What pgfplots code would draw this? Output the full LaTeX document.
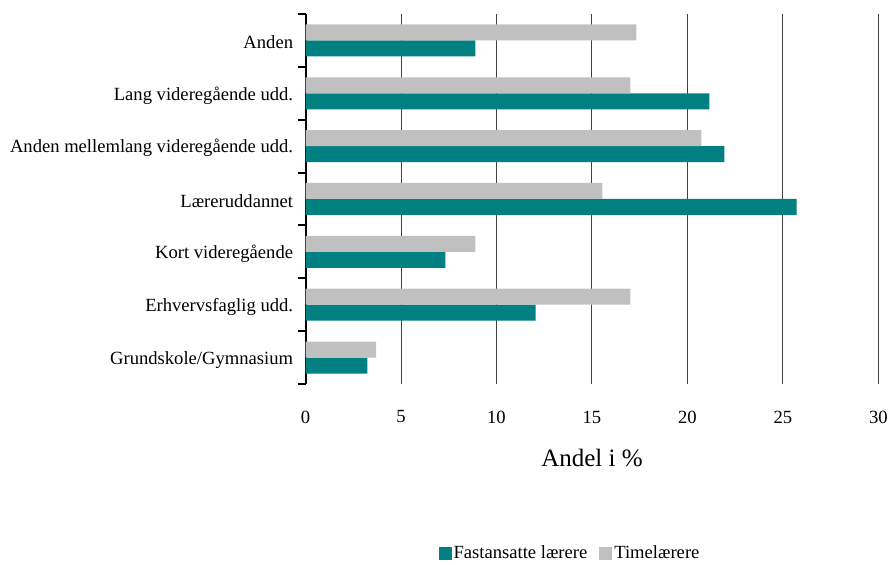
\documentclass[border=0pt]{standalone}
\usepackage{pgfplots}
\pgfplotsset{compat=1.18}
\usepackage{fontspec}
\setmainfont{Liberation Serif}
\definecolor{teal1}{HTML}{008080}
\definecolor{gray1}{HTML}{C0C0C0}
\definecolor{grid1}{HTML}{404040}
\begin{document}
\begin{tikzpicture}[font=\fontsize{18.6}{22}\selectfont]
\begin{axis}[
  scale only axis,
  width=572.7pt, height=370pt,
  xbar, bar width=16pt,
  xmin=0, xmax=30,
  ymin=-0.5, ymax=6.5,
  xtick={0,5,...,30},
  ytick={0,...,6},
  yticklabels={Grundskole/Gymnasium,Erhvervsfaglig udd.,Kort videregående,Læreruddannet,Anden mellemlang videregående udd.,Lang videregående udd.,Anden},
  minor ytick={-0.5,0.5,...,6.5},
  axis x line*=bottom,
  axis y line*=left,
  x axis line style={draw=none},
  y axis line style={black, line width=2pt, -},
  xmajorgrids,
  grid style={grid1, line width=1pt},
  major tick length=0pt,
  minor tick length=8pt,
  tick align=outside,
  minor tick style={black, line width=2pt},
  /pgf/number format/assume math mode=true,
  xticklabel style={anchor=center, yshift=-33pt},
  yticklabel style={anchor=east, xshift=-9pt, yshift=-2pt},
  xlabel={Andel i \%},
  xlabel style={font=\fontsize{25}{30}\selectfont, at={(axis description cs:0.5,-0.2)}, anchor=center},
  legend style={draw=none, at={(axis description cs:0.4617,-0.457)}, anchor=center, legend columns=2,
    /tikz/every even column/.append style={column sep=10pt}, inner sep=0pt},
  legend image code/.code={\fill[#1,draw=none] (0pt,-6.5pt) rectangle (13pt,6.5pt);},
  legend cell align=left,
]
\addplot[fill=teal1, draw=none, bar shift=-8pt] coordinates {
 (3.23,0) (12.05,1) (7.32,2) (25.72,3) (21.94,4) (21.15,5) (8.9,6)};
\addplot[fill=gray1, draw=none, bar shift=8pt] coordinates {
 (3.70,0) (17.01,1) (8.9,2) (15.54,3) (20.73,4) (17.01,5) (17.33,6)};
\legend{Fastansatte lærere, Timelærere}
\end{axis}
\path ([xshift=-305.6pt,yshift=-181pt]current axis.south west) rectangle ([xshift=12.7pt,yshift=14pt]current axis.north east);
\end{tikzpicture}
\end{document}
